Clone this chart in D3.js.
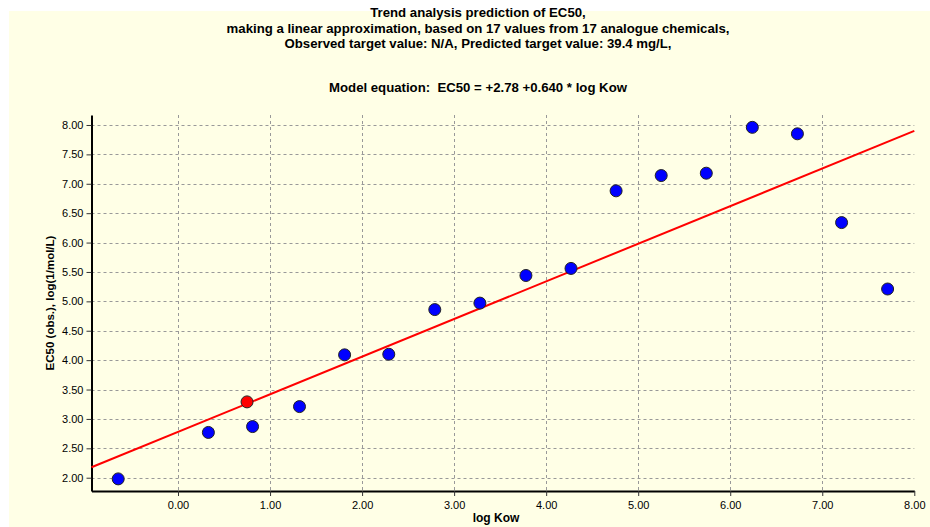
<!DOCTYPE html>
<html><head><meta charset="utf-8">
<script src="https://cdn.jsdelivr.net/npm/d3@7"></script>
<style>
html,body{margin:0;padding:0;background:#fff;}
svg{display:block;}
</style></head>
<body>
<script>
// ---- data ----
const titleLines = [
  "Trend analysis prediction of EC50,",
  "making a linear approximation, based on 17 values from 17 analogue chemicals,",
  "Observed target value: N/A, Predicted target value: 39.4 mg/L,"
];
const equationText = "Model equation:  EC50 = +2.78 +0.640 * log Kow";
const xTitle = "log Kow";
const yTitle = "EC50 (obs.), log(1/mol/L)";
const logKow = [-0.65, 0.33, 0.81, 1.32, 1.81, 2.29, 2.79, 3.28, 3.78, 4.27, 4.76, 5.25, 5.74, 6.24, 6.73, 7.21, 7.71];
const ec50   = [1.98, 2.77, 2.87, 3.21, 4.09, 4.10, 4.86, 4.97, 5.44, 5.56, 6.88, 7.14, 7.18, 7.96, 7.85, 6.34, 5.21];
const targetX = [0.75];
const targetY = [3.29];
const intercept = 2.78, slope = 0.640;
const xTicks = [0, 1, 2, 3, 4, 5, 6, 7, 8];
const yTicks = [2.0, 2.5, 3.0, 3.5, 4.0, 4.5, 5.0, 5.5, 6.0, 6.5, 7.0, 7.5, 8.0];
const xDomain = [-0.94, 8];
const yDomain = [1.774, 8.17];

// ---- layout ----
const W = 930, H = 527;
const svg = d3.select("body").append("svg").attr("width", W).attr("height", H);
svg.append("rect").attr("x", 9).attr("y", 11).attr("width", W - 9).attr("height", H - 11).attr("fill", "#FFFFE6");

const pL = 91.5, pR = 914.3, pT = 115, pB = 491;
const x = d3.scaleLinear().domain(xDomain).range([pL, pR]);
const y = d3.scaleLinear().domain(yDomain).range([pB, pT]);

const font = "'Liberation Sans', Arial, sans-serif";

// titles
const tg = svg.append("g").attr("font-family", font).attr("font-weight", "bold").attr("font-size", 13.2).attr("fill", "#000").attr("text-anchor", "middle");
titleLines.forEach((t, i) => tg.append("text").attr("x", 478).attr("y", 17 + i * 15.5).text(t));
tg.append("text").attr("x", 478).attr("y", 92).style("white-space", "pre").text(equationText);

// grid
const grid = svg.append("g").attr("stroke", "#999").attr("stroke-width", 1).attr("stroke-dasharray", "3,3").attr("fill", "none");
yTicks.forEach(v => grid.append("line").attr("x1", pL).attr("x2", pR).attr("y1", Math.round(y(v)) + 0.5).attr("y2", Math.round(y(v)) + 0.5));
xTicks.filter(v => v < 8).forEach(v => grid.append("line").attr("y1", pT).attr("y2", pB).attr("x1", Math.round(x(v)) + 0.5).attr("x2", Math.round(x(v)) + 0.5));

// axes
const xAxis = d3.axisBottom(x).tickValues(xTicks).tickFormat(d3.format(".2f")).tickSize(5).tickSizeOuter(0);
const yAxis = d3.axisLeft(y).tickValues(yTicks).tickFormat(d3.format(".2f")).tickSize(5).tickSizeOuter(0);
const gx = svg.append("g").attr("transform", `translate(0,${pB})`).call(xAxis);
const gy = svg.append("g").attr("transform", `translate(${pL},0)`).call(yAxis);
[gx, gy].forEach(g => {
  g.select(".domain").attr("stroke", "#000").attr("stroke-width", 2);
  g.selectAll(".tick line").attr("stroke", "#333");
  g.selectAll(".tick text").attr("font-family", font).attr("font-size", 11).attr("fill", "#000");
});
gx.selectAll(".tick text").attr("dy", "0.71em").attr("y", 10);
gy.selectAll(".tick text").attr("x", -8);

// axis titles
svg.append("text").attr("x", 496).attr("y", 522).attr("text-anchor", "middle")
  .attr("font-family", font).attr("font-weight", "bold").attr("font-size", 12).text(xTitle);
svg.append("text").attr("transform", `translate(54,${(pT + pB) / 2}) rotate(-90)`).attr("text-anchor", "middle")
  .attr("font-family", font).attr("font-weight", "bold").attr("font-size", 11.5).text(yTitle);

// regression line
svg.append("line")
  .attr("x1", x(xDomain[0])).attr("y1", y(intercept + slope * xDomain[0]))
  .attr("x2", x(xDomain[1])).attr("y2", y(intercept + slope * xDomain[1]))
  .attr("stroke", "#FF0000").attr("stroke-width", 2);

// points
svg.append("g").selectAll("circle").data(logKow.map((d, i) => [d, ec50[i]])).join("circle")
  .attr("cx", d => x(d[0])).attr("cy", d => y(d[1])).attr("r", 6)
  .attr("fill", "#0000FF").attr("stroke", "#222").attr("stroke-width", 1);
svg.append("g").selectAll("circle").data(targetX.map((d, i) => [d, targetY[i]])).join("circle")
  .attr("cx", d => x(d[0])).attr("cy", d => y(d[1])).attr("r", 6)
  .attr("fill", "#FF0000").attr("stroke", "#222").attr("stroke-width", 1);
</script>
</body></html>
